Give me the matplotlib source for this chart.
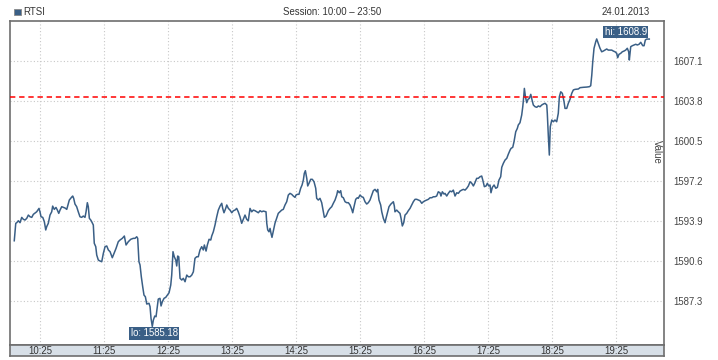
import matplotlib
matplotlib.use("Agg")
import matplotlib.pyplot as plt
from matplotlib.patches import Rectangle

plt.rcParams["font.family"] = ["Liberation Sans", "DejaVu Sans"]

# minutes after 10:00 and RTSI value
minutes = [0.9, 1.6, 2.3, 3.2, 4.7, 6.3, 7.9, 9.4, 11.0, 12.6, 14.1, 15.7, 17.3, 18.8, 21.9, 24.1, 25.0,
           26.0, 27.6, 29.1, 30.4, 31.3, 32.8, 34.4, 36.0, 36.9, 38.4, 40.0, 41.3, 42.6, 43.8, 45.4, 46.9,
           48.5, 50.1, 51.6, 52.5, 53.8, 55.0, 55.7, 56.6, 57.8, 59.4, 60.9, 62.5, 64.1, 65.6, 67.2, 68.2,
           69.4, 70.3, 71.3, 72.6, 73.5, 75.0, 75.9, 77.3, 78.2, 79.7, 81.3, 82.9, 84.4, 86.0, 87.6, 89.1,
           90.7, 92.8, 94.4, 96.3, 98.4, 100.0, 102.2, 104.1, 105.7, 107.8, 110.1, 112.5, 114.1, 115.7,
           116.6, 117.8, 118.8, 120.0, 121.3, 122.5, 123.8, 125.1, 127.2, 128.2, 129.1, 130.3, 131.3, 132.6,
           133.8, 135.0, 135.9, 137.5, 138.5, 139.7, 141.3, 142.9, 144.4, 146.0, 147.6, 148.5, 149.7, 150.9,
           152.3, 153.2, 154.1, 155.1, 156.3, 157.9, 159.4, 161.0, 162.6, 164.1, 165.7, 167.3, 168.8, 170.3,
           171.9, 173.4, 175.0, 176.6, 178.1, 179.1, 180.7, 181.9, 183.5, 185.1, 186.0, 187.5, 189.1, 190.7,
           192.2, 193.8, 195.4, 196.3, 197.5, 199.1, 200.1, 201.6, 203.2, 204.8, 206.3, 207.8, 209.4, 210.9,
           212.5, 214.1, 215.6, 217.2, 218.8, 220.3, 221.9, 223.5, 225.0, 226.6, 228.2, 229.7, 231.3, 232.9,
           234.4, 236.9, 237.6, 238.5, 239.7, 240.7, 241.6, 242.5, 243.8, 245.3, 246.9, 248.4, 250.0, 251.6,
           253.1, 254.7, 256.3, 257.8, 259.4, 261.0, 262.5, 264.1, 265.0, 266.3, 267.8, 269.4, 270.7, 271.9,
           272.8, 273.8, 275.1, 276.0, 277.2, 278.8, 280.3, 281.9, 283.5, 284.4, 285.9, 287.5, 289.1, 290.6,
           291.6, 293.2, 295.3, 296.9, 298.5, 300.0, 301.6, 303.2, 304.1, 305.6, 306.9, 307.9, 309.4, 311.0,
           312.6, 314.1, 315.7, 317.3, 318.2, 319.4, 321.0, 322.5, 323.4, 325.0, 326.6, 328.1, 329.7, 331.3,
           332.8, 334.4, 336.0, 337.5, 339.1, 340.7, 341.6, 342.8, 344.4, 345.4, 346.9, 348.5, 349.4, 350.6,
           352.2, 353.8, 355.3, 356.3, 357.2, 357.8, 359.4, 360.9, 362.5, 363.5, 364.7, 366.0, 367.2, 368.8,
           370.3, 371.9, 373.5, 375.0, 376.6, 378.2, 379.7, 381.3, 382.9, 384.4, 386.0, 387.6, 389.1, 390.7,
           392.3, 393.8, 395.3, 396.9, 398.4, 400.0, 400.9, 402.2, 403.8, 404.7, 406.3, 407.8, 409.4, 411.0,
           412.5, 414.1, 415.7, 417.2, 418.8, 420.4, 421.9, 423.5, 425.1, 426.6, 428.2, 429.8, 431.3, 432.8,
           434.4, 435.9, 437.5, 439.1, 440.1, 441.6, 443.2, 444.4, 445.7, 446.9, 447.8, 449.1, 450.7, 452.3,
           453.8, 455.3, 456.9, 457.9, 459.4, 461.0, 462.6, 464.1, 465.7, 466.6, 468.2, 469.4, 471.0, 472.5,
           473.4, 475.0, 476.6, 477.6, 478.5, 479.1, 480.0, 481.3, 482.5, 483.8, 485.1, 486.3, 487.5, 489.1,
           490.7, 492.2, 493.8, 495.4, 496.9, 498.5, 500.1, 500.6, 501.6, 502.5, 503.4, 504.8, 506.3, 507.8,
           509.4, 510.9, 511.9, 513.2, 514.7, 516.3, 517.2, 518.8, 520.3, 521.9, 523.5, 525.0, 526.6, 529.7,
           531.3, 534.4, 537.6, 540.0, 541.3, 542.3, 543.2, 544.4, 546.0, 546.9, 548.4, 550.0, 551.6, 553.1,
           554.7, 556.3, 557.8, 561.0, 562.5, 564.1, 565.7, 566.6, 567.8, 569.4, 570.9, 572.5, 574.1, 575.6,
           576.9, 577.5, 578.8, 580.3, 581.9, 583.5, 585.0, 586.6, 588.2, 590.1, 591.3, 592.5, 593.8, 596.2]
values = [1592.25, 1592.99, 1593.69, 1593.74, 1593.90, 1593.74, 1594.18, 1594.02, 1593.96, 1594.10, 1594.37,
          1594.23, 1594.18, 1594.43, 1594.64, 1594.92, 1594.64, 1594.23, 1594.18, 1593.82, 1593.14, 1593.41,
          1593.69, 1594.37, 1594.64, 1595.11, 1594.84, 1595.00, 1594.78, 1594.51, 1594.78, 1595.06, 1595.01,
          1594.95, 1594.84, 1595.34, 1595.61, 1595.75, 1595.88, 1595.94, 1595.75, 1595.28, 1595.06, 1594.64,
          1594.23, 1594.18, 1594.29, 1594.18, 1594.64, 1595.39, 1595.06, 1594.10, 1593.96, 1593.82, 1593.55,
          1592.04, 1591.76, 1591.07, 1590.66, 1590.58, 1590.52, 1591.21, 1591.76, 1591.82, 1591.49, 1591.35,
          1590.85, 1591.21, 1591.62, 1592.17, 1592.31, 1592.45, 1592.64, 1591.90, 1592.17, 1592.37, 1592.45,
          1592.45, 1592.58, 1592.45, 1590.52, 1590.25, 1589.28, 1588.46, 1587.77, 1587.63, 1587.03, 1587.09,
          1586.81, 1585.85, 1585.18, 1585.71, 1586.04, 1585.98, 1586.81, 1587.44, 1587.50, 1586.87, 1587.22,
          1587.50, 1587.58, 1587.77, 1587.96, 1588.60, 1589.42, 1591.35, 1590.93, 1590.66, 1590.17, 1590.99,
          1590.93, 1589.15, 1589.01, 1589.15, 1588.87, 1589.42, 1589.28, 1589.28, 1589.42, 1589.69, 1590.80,
          1590.93, 1590.93, 1591.49, 1591.76, 1591.49, 1591.90, 1591.40, 1591.90, 1592.37, 1592.31, 1592.64,
          1592.99, 1593.55, 1594.23, 1594.78, 1595.11, 1595.34, 1594.92, 1594.56, 1594.92, 1595.20, 1594.92,
          1594.78, 1594.56, 1594.73, 1594.78, 1594.92, 1594.64, 1594.23, 1593.69, 1594.02, 1594.37, 1594.02,
          1593.90, 1594.92, 1594.64, 1594.78, 1594.73, 1594.64, 1594.56, 1594.73, 1594.64, 1594.70, 1594.64,
          1593.69, 1593.14, 1592.99, 1593.27, 1592.86, 1592.53, 1593.08, 1593.69, 1594.10, 1594.51, 1594.64,
          1594.78, 1594.84, 1595.20, 1595.47, 1596.02, 1596.16, 1596.08, 1595.94, 1595.83, 1596.02, 1596.08,
          1596.08, 1596.58, 1596.85, 1597.26, 1597.81, 1598.03, 1597.40, 1596.77, 1596.99, 1597.32, 1597.32,
          1597.12, 1596.58, 1595.75, 1595.61, 1595.75, 1595.39, 1594.64, 1594.18, 1594.29, 1594.73, 1594.92,
          1595.06, 1595.34, 1595.61, 1596.02, 1596.38, 1596.21, 1596.38, 1595.88, 1595.80, 1595.47, 1595.39,
          1595.39, 1595.20, 1594.84, 1594.56, 1595.06, 1595.67, 1595.80, 1595.75, 1596.02, 1595.88, 1595.83,
          1595.47, 1595.28, 1595.39, 1595.61, 1596.02, 1596.38, 1596.49, 1596.29, 1596.49, 1595.61, 1595.20,
          1594.64, 1594.10, 1593.74, 1594.10, 1594.51, 1595.06, 1595.26, 1595.39, 1595.47, 1595.11, 1594.64,
          1594.78, 1594.64, 1594.51, 1594.10, 1593.47, 1593.74, 1594.37, 1594.51, 1594.73, 1594.92, 1595.20,
          1595.47, 1595.67, 1595.67, 1595.61, 1595.55, 1595.34, 1595.47, 1595.55, 1595.61, 1595.67, 1595.80,
          1595.80, 1595.88, 1595.88, 1595.94, 1596.29, 1596.21, 1595.94, 1596.29, 1596.10, 1596.16, 1595.94,
          1596.16, 1596.35, 1596.29, 1596.43, 1595.94, 1596.21, 1596.16, 1596.35, 1596.43, 1596.49, 1596.43,
          1596.58, 1596.77, 1597.12, 1596.99, 1596.77, 1597.04, 1597.40, 1597.40, 1597.53, 1597.59, 1597.26,
          1596.71, 1596.77, 1596.99, 1596.77, 1596.85, 1596.21, 1596.66, 1596.85, 1596.58, 1596.66, 1597.26,
          1597.53, 1598.31, 1598.64, 1598.91, 1599.05, 1599.40, 1599.73, 1599.87, 1599.96, 1600.42, 1601.24,
          1601.52, 1601.80, 1601.99, 1602.62, 1603.31, 1604.13, 1604.82, 1604.19, 1603.64, 1603.92, 1604.00,
          1604.33, 1603.86, 1603.45, 1603.31, 1603.26, 1603.37, 1603.31, 1603.45, 1603.53, 1603.59, 1603.45,
          1602.76, 1600.83, 1599.32, 1601.66, 1602.21, 1602.07, 1602.21, 1602.07, 1602.76, 1604.13, 1604.54,
          1604.41, 1603.72, 1603.17, 1603.17, 1603.59, 1603.92, 1604.41, 1604.69, 1604.74, 1604.77, 1604.88,
          1604.91, 1604.93, 1604.96, 1605.04, 1605.92, 1607.02, 1608.13, 1608.67, 1608.90, 1608.54, 1608.13,
          1607.84, 1607.90, 1607.98, 1608.07, 1607.98, 1607.98, 1607.90, 1607.84, 1607.71, 1607.35, 1607.63,
          1607.71, 1607.84, 1607.90, 1607.98, 1608.13, 1607.84, 1607.16, 1608.26, 1608.34, 1608.40, 1608.46,
          1608.40, 1608.46, 1608.62, 1608.34, 1608.34, 1608.81, 1608.89, 1608.89]

ref_level = 1604.1
y_ticks = [1587.3, 1590.6, 1593.9, 1597.2, 1600.5, 1603.8, 1607.1]
x_ticks = [25, 85, 145, 205, 265, 325, 385, 445, 505, 565]
x_labels = ["10:25", "11:25", "12:25", "13:25", "14:25", "15:25", "16:25", "17:25", "18:25", "19:25"]

LINE = "#3a5f86"
FRAME = "#6e6e6e"
FS = 6.9
W, H = 718, 360

fig = plt.figure(figsize=(W / 100, H / 100), dpi=100)
fig.patch.set_facecolor("white")

ax = fig.add_axes([10 / W, 15 / H, 654 / W, 324 / H])
ax.plot(minutes, values, color=LINE, lw=1.1, zorder=3)
ax.axhline(ref_level, color="#ff0000", lw=1.1, ls=(0, (3.5, 2.5)), zorder=4)
ax.set_xlim(-3.1, 610)
ax.set_ylim(1583.65, 1610.38)
ax.set_xticks(x_ticks)
ax.set_yticks(y_ticks)
ax.set_yticklabels([f"{v:.1f}" for v in y_ticks])
ax.yaxis.tick_right()
ax.tick_params(axis="y", length=0, pad=7, labelsize=FS, labelcolor="#444444")
ax.tick_params(axis="x", length=0, labelbottom=False)
ax.grid(True, color="#c8c8c8", ls=(0, (1, 2)), lw=0.8)
for s in ax.spines.values():
    s.set_color(FRAME)
    s.set_linewidth(1.2)

# hi / lo labels
i_hi = values.index(max(values))
i_lo = values.index(min(values))
box = dict(boxstyle="square,pad=0.15", fc=LINE, ec="none")
ax.annotate(f"hi: {values[i_hi]:.1f}", (minutes[i_hi], values[i_hi]), xytext=(29, 7),
            textcoords="offset pixels", ha="center", va="center", color="white",
            fontsize=FS, bbox=box, zorder=5)
ax.annotate(f"lo: {values[i_lo]:.2f}", (minutes[i_lo], values[i_lo]), xytext=(2, -7),
            textcoords="offset pixels", ha="center", va="center", color="white",
            fontsize=FS, bbox=box, zorder=5)

fig.text(657 / W, 1 - 152 / H, "Value", rotation=270, ha="center", va="center",
         fontsize=FS, color="#444444")

# time band under the plot
band = fig.add_axes([10 / W, 4 / H, 654 / W, 11 / H], sharex=ax)
band.set_facecolor("#d7dfe7")
band.set_yticks([])
band.set_xticks(x_ticks)
band.set_xticklabels(x_labels)
band.tick_params(axis="x", length=0, pad=-3.96, labelsize=FS, labelcolor="#333333")
for lbl in band.get_xticklabels():
    lbl.set_va("center")
for s in band.spines.values():
    s.set_color(FRAME)
    s.set_linewidth(1.2)

# header
fig.patches.append(Rectangle((14 / W, 1 - 15 / H), 7 / W, 6 / H, transform=fig.transFigure,
                             fc=LINE, ec="#888888", lw=0.6))
fig.text(23 / W, 1 - 12 / H, "RTSI", ha="left", va="center", fontsize=FS, color="#333333")
fig.text(332 / W, 1 - 12 / H, "Session: 10:00 \u2013 23:50", ha="center", va="center",
         fontsize=FS, color="#333333")
fig.text(650 / W, 1 - 12 / H, "24.01.2013", ha="right", va="center", fontsize=FS, color="#333333")

fig.savefig("out.png", dpi=100)
